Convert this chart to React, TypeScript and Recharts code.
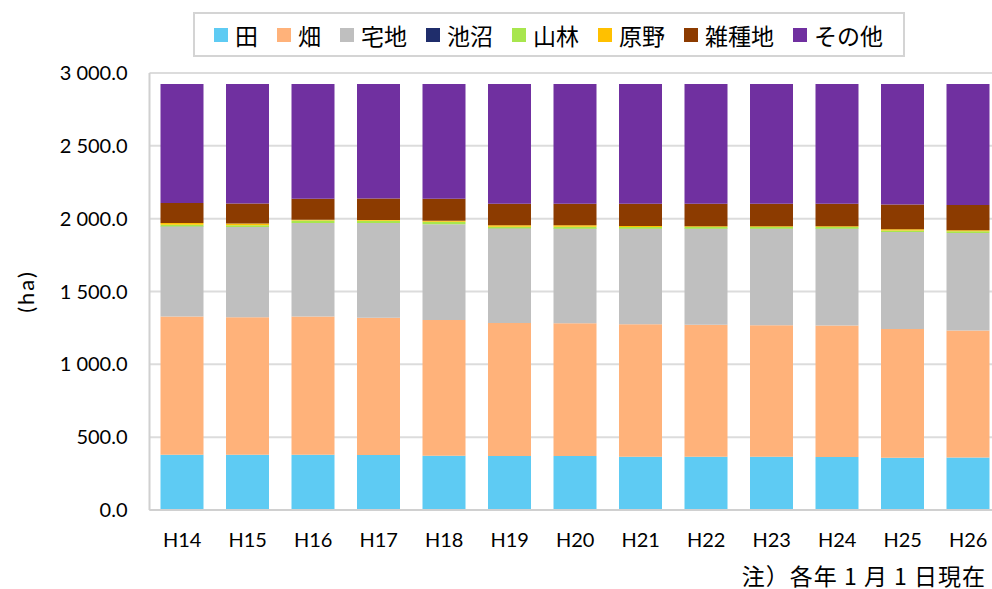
import { BarChart, Bar, XAxis, YAxis, CartesianGrid, Legend } from 'recharts';

const years = ['H14', 'H15', 'H16', 'H17', 'H18', 'H19', 'H20', 'H21', 'H22', 'H23', 'H24', 'H25', 'H26'];

// land use area (ha)
const ta = [380, 380, 380, 378, 372, 370, 370, 366, 366, 366, 364, 358, 360];
const hatake = [948, 943, 948, 941, 933, 914, 912, 909, 905, 902, 902, 885, 872];
const takuchi = [617, 619, 642, 651, 656, 647, 647, 654, 658, 661, 663, 665, 669];
const chisho = [1, 1, 1, 1, 1, 1, 1, 1, 1, 1, 1, 1, 1];
const sanrin = [12, 12, 16, 14, 16, 12, 14, 12, 12, 12, 12, 10, 12];
const genya = [12, 12, 6, 5, 8, 10, 10, 8, 6, 6, 6, 8, 6];
const zasshuchi = [137, 137, 144, 148, 151, 149, 149, 153, 155, 155, 155, 171, 174];
const sonota = [817, 820, 787, 786, 787, 821, 821, 821, 821, 821, 821, 826, 830];

const yTicks = [0, 500, 1000, 1500, 2000, 2500, 3000];

const series = [
  { key: 'ta', name: '田', color: '#5ECBF3', values: ta },
  { key: 'hatake', name: '畑', color: '#FFB27A', values: hatake },
  { key: 'takuchi', name: '宅地', color: '#BFBFBF', values: takuchi },
  { key: 'chisho', name: '池沼', color: '#1F2D6B', values: chisho },
  { key: 'sanrin', name: '山林', color: '#A8E64E', values: sanrin },
  { key: 'genya', name: '原野', color: '#FFC000', values: genya },
  { key: 'zasshuchi', name: '雑種地', color: '#8C3B00', values: zasshuchi },
  { key: 'sonota', name: 'その他', color: '#7030A0', values: sonota },
];

const data = years.map((year, i) => {
  const row: Record<string, string | number> = { year };
  series.forEach((s) => {
    row[s.key] = s.values[i];
  });
  return row;
});

const FONT = 'Lato, "Noto Sans CJK JP", sans-serif';
const JP_FONT = '"Noto Sans CJK JP", sans-serif';

const formatTick = (v: number) => {
  const [int, dec] = v.toFixed(1).split('.');
  return int.replace(/\B(?=(\d{3})+$)/g, ' ') + '.' + dec;
};

const LegendBox = () => (
  <div
    style={{
      width: 712,
      height: 45,
      boxSizing: 'border-box',
      border: '2px solid #d4d4d4',
      display: 'flex',
      alignItems: 'center',
      paddingLeft: 19,
      fontFamily: JP_FONT,
      fontSize: 23,
      lineHeight: '26px',
      color: '#000',
    }}
  >
    {series.map((s) => (
      <div key={s.key} style={{ display: 'flex', alignItems: 'center', marginRight: 19 }}>
        <span style={{ width: 14, height: 14, background: s.color, display: 'inline-block', marginRight: 7 }} />
        <span>{s.name}</span>
      </div>
    ))}
  </div>
);

export default function App() {
  return (
    <div style={{ position: 'absolute', left: 0, top: 0, width: 992, height: 589, overflow: 'hidden', background: '#fff' }}>
      <BarChart
        width={1002}
        height={589}
        data={data}
        margin={{ top: 73, right: 1, left: 0, bottom: 39 }}
        barSize={43}
      >
        <CartesianGrid vertical={false} stroke="#dcdcdc" strokeWidth={2} />
        <XAxis
          dataKey="year"
          height={40}
          tickLine={false}
          axisLine={{ stroke: '#d0d0d0', strokeWidth: 2 }}
          tickMargin={17}
          tick={{ fill: '#000', fontSize: 20, fontFamily: FONT }}
          interval={0}
        />
        <YAxis
          width={149.5}
          domain={[0, 3000]}
          ticks={yTicks}
          tickLine={false}
          axisLine={{ stroke: '#d0d0d0', strokeWidth: 2 }}
          tickMargin={16}
          tickFormatter={formatTick}
          tick={{ fill: '#000', fontSize: 20, fontFamily: FONT }}
          label={{
            value: '(ha)',
            angle: -90,
            position: 'center',
            dx: -49,
            style: { fill: '#000', fontSize: 22, fontFamily: FONT, letterSpacing: 2 },
          }}
        />
        <Legend
          layout="horizontal"
          verticalAlign="middle"
          align="center"
          wrapperStyle={{ top: 12, left: 193, width: 712 }}
          content={() => <LegendBox />}
        />
        {series.map((s) => (
          <Bar key={s.key} dataKey={s.key} name={s.name} stackId="a" fill={s.color} isAnimationActive={false} />
        ))}
      </BarChart>
      <div
        style={{
          position: 'absolute',
          right: 6,
          top: 563,
          fontFamily: JP_FONT,
          fontSize: 23,
          lineHeight: '25px',
          letterSpacing: 1,
          color: '#000',
          whiteSpace: 'nowrap',
        }}
      >
        注）各年 1 月 1 日現在
      </div>
    </div>
  );
}
